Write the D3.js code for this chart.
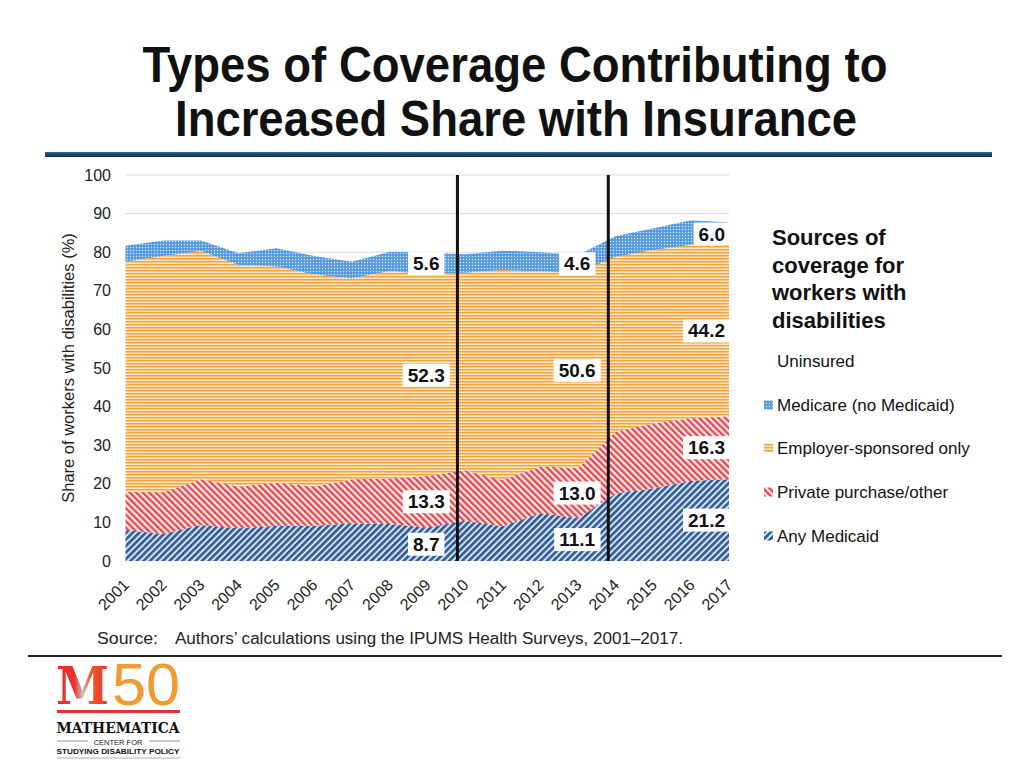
<!DOCTYPE html>
<html>
<head>
<meta charset="utf-8">
<script src="https://cdn.jsdelivr.net/npm/d3@7"></script>
<style>
  html, body { margin: 0; padding: 0; background: #fff; }
  svg { display: block; font-family: "Liberation Sans", Arial, sans-serif; }
</style>
</head>
<body>
<svg id="chart" width="1024" height="768"></svg>
<script>
// ---- data ----
const years = [2001, 2002, 2003, 2004, 2005, 2006, 2007, 2008, 2009, 2010, 2011, 2012, 2013, 2014, 2015, 2016, 2017];
const anyMedicaid = [8.0, 7.0, 9.3, 8.5, 9.1, 9.1, 9.8, 9.6, 8.7, 10.4, 9.0, 12.4, 11.1, 17.5, 18.8, 20.8, 21.2];
const privatePurchase = [10.0, 10.8, 11.9, 10.8, 11.2, 10.2, 11.4, 11.8, 13.3, 13.1, 12.0, 12.1, 13.0, 16.0, 16.9, 16.2, 16.3];
const employerOnly = [59.5, 61.2, 59.1, 57.4, 56.0, 54.9, 52.0, 53.7, 52.3, 51.2, 54.4, 50.5, 50.6, 45.3, 44.9, 44.9, 44.2];
const medicare = [4.2, 4.0, 2.7, 3.0, 4.7, 4.8, 4.3, 5.0, 5.6, 4.8, 5.0, 5.0, 4.6, 5.4, 5.6, 6.4, 6.0];
const uninsured = [18.3, 17.0, 17.0, 20.3, 19.0, 21.0, 22.5, 19.9, 20.1, 20.5, 19.6, 20.0, 20.7, 15.8, 13.8, 11.7, 12.3];
const yTicks = [0, 10, 20, 30, 40, 50, 60, 70, 80, 90, 100];
const labelYears = [2009, 2013, 2017];
const markerYears = [2009.8, 2013.8];
const seriesKeys = ["medicaid", "private", "employer", "medicare", "uninsured"];
const seriesNames = {
  medicaid: "Any Medicaid",
  private: "Private purchase/other",
  employer: "Employer-sponsored only",
  medicare: "Medicare (no Medicaid)",
  uninsured: "Uninsured"
};
const legendOrder = ["uninsured", "medicare", "employer", "private", "medicaid"];

const table = years.map((y, i) => ({
  year: y,
  medicaid: anyMedicaid[i],
  private: privatePurchase[i],
  employer: employerOnly[i],
  medicare: medicare[i],
  uninsured: uninsured[i]
}));

// ---- drawing ----
const svg = d3.select("#chart");
const defs = svg.append("defs");

function stripePattern(id, bg, fg, size, sw, angle) {
  const p = defs.append("pattern").attr("id", id)
    .attr("patternUnits", "userSpaceOnUse")
    .attr("width", size).attr("height", size)
    .attr("patternTransform", `rotate(${angle})`);
  p.append("rect").attr("width", size).attr("height", size).attr("fill", bg);
  p.append("rect").attr("x", 0).attr("y", 0).attr("width", sw).attr("height", size).attr("fill", fg);
}
stripePattern("pat-medicaid", "#d6e2f0", "#2f5c92", 4.6, 2.6, 45);
stripePattern("pat-private", "#fbe3e3", "#e2464c", 4.6, 2.2, -45);
(function () {
  const p = defs.append("pattern").attr("id", "pat-employer")
    .attr("patternUnits", "userSpaceOnUse").attr("width", 6).attr("height", 3);
  p.append("rect").attr("width", 6).attr("height", 3).attr("fill", "#fde6c4");
  p.append("rect").attr("y", 0).attr("width", 6).attr("height", 1.5).attr("fill", "#f2a43c");
})();
(function () {
  const p = defs.append("pattern").attr("id", "pat-medicare")
    .attr("patternUnits", "userSpaceOnUse").attr("width", 3).attr("height", 3);
  p.append("rect").attr("width", 3).attr("height", 3).attr("fill", "#559ae0");
  p.append("circle").attr("cx", 1.5).attr("cy", 1.5).attr("r", 0.75).attr("fill", "#dbeaf9");
})();
const fills = {
  medicaid: "url(#pat-medicaid)",
  private: "url(#pat-private)",
  employer: "url(#pat-employer)",
  medicare: "url(#pat-medicare)",
  uninsured: "none"
};

// Title
const title = svg.append("g").attr("font-weight", "bold").attr("fill", "#111").attr("font-size", 50)
  .attr("font-family", "'Liberation Sans Narrow', 'Arial Narrow', 'Liberation Sans', sans-serif")
  .attr("text-anchor", "middle");
title.append("text").attr("x", 515).attr("y", 82)
  .attr("textLength", 745).attr("lengthAdjust", "spacingAndGlyphs")
  .text("Types of Coverage Contributing to");
title.append("text").attr("x", 516).attr("y", 136)
  .attr("textLength", 682).attr("lengthAdjust", "spacingAndGlyphs")
  .text("Increased Share with Insurance");

// header rule
const grad = defs.append("linearGradient").attr("id", "rule-grad").attr("x1", 0).attr("x2", 0).attr("y1", 0).attr("y2", 1);
grad.append("stop").attr("offset", "0%").attr("stop-color", "#2c6a93");
grad.append("stop").attr("offset", "100%").attr("stop-color", "#0e2f4a");
svg.append("rect").attr("x", 45).attr("y", 152).attr("width", 947).attr("height", 5).attr("fill", "url(#rule-grad)");

// scales
const x = d3.scaleLinear().domain([2001, 2017]).range([125.5, 729]);
const y = d3.scaleLinear().domain([0, 100]).range([561, 175]);

// gridlines
const grid = svg.append("g");
grid.selectAll("line").data(yTicks.filter(t => t > 0)).join("line")
  .attr("x1", x(2001)).attr("x2", x(2017))
  .attr("y1", d => y(d)).attr("y2", d => y(d))
  .attr("stroke", "#d9d9d9").attr("stroke-width", 1);

// stacked areas
const stack = d3.stack().keys(seriesKeys);
const layers = stack(table);
const area = d3.area()
  .x(d => x(d.data.year))
  .y0(d => y(d[0]))
  .y1(d => y(d[1]));
svg.append("g").selectAll("path").data(layers).join("path")
  .attr("d", area)
  .attr("fill", d => fills[d.key]);

// y axis
const yAxis = d3.axisLeft(y).tickValues(yTicks).tickSize(0).tickPadding(0);
const yg = svg.append("g").attr("transform", "translate(111,0)").call(yAxis);
yg.select(".domain").remove();
yg.selectAll("text").attr("font-size", 16).attr("fill", "#222")
  .attr("font-family", "Liberation Sans, Arial, sans-serif");

// x axis
const xAxis = d3.axisBottom(x).tickValues(years).tickFormat(d3.format("d")).tickSize(0).tickPadding(0);
const xg = svg.append("g").attr("transform", "translate(0,561)").call(xAxis);
xg.select(".domain").remove();
xg.selectAll("text")
  .attr("font-size", 16).attr("fill", "#222")
  .attr("font-family", "Liberation Sans, Arial, sans-serif")
  .attr("text-anchor", "end")
  .attr("dy", null).attr("y", 0)
  .attr("transform", "translate(4,25) rotate(-45)");

// y title
svg.append("text")
  .attr("transform", `translate(74,${y(50)}) rotate(-90)`)
  .attr("text-anchor", "middle").attr("font-size", 16.5).attr("fill", "#222")
  .text("Share of workers with disabilities (%)");

// vertical markers
svg.append("g").selectAll("line").data(markerYears).join("line")
  .attr("x1", d => x(d)).attr("x2", d => x(d))
  .attr("y1", y(100)).attr("y2", y(0))
  .attr("stroke", "#111").attr("stroke-width", 3);

// data labels
const labelG = svg.append("g");
const labelData = [];
layers.filter(l => l.key !== "uninsured").forEach(l => {
  labelYears.forEach(yr => {
    const i = years.indexOf(yr);
    const d = l[i];
    labelData.push({ year: yr, v: table[i][l.key], mid: (d[0] + d[1]) / 2, last: yr === 2017 });
  });
});
labelData.forEach(ld => {
  const g = labelG.append("g");
  const t = g.append("text")
    .attr("font-size", 19).attr("font-weight", "bold").attr("fill", "#111")
    .attr("dominant-baseline", "central")
    .attr("text-anchor", ld.last ? "end" : "middle")
    .attr("x", ld.last ? x(ld.year) - 4 : x(ld.year) - 1)
    .attr("y", y(ld.mid))
    .text(ld.v.toFixed(1));
  const bb = t.node().getBBox();
  g.insert("rect", "text")
    .attr("x", bb.x - 5).attr("y", bb.y - 1)
    .attr("width", bb.width + 10).attr("height", bb.height + 2)
    .attr("fill", "#fff");
});

// legend
const lg = svg.append("g");
const ltitle = ["Sources of", "coverage for", "workers with", "disabilities"];
lg.append("text").attr("font-size", 22).attr("font-weight", "bold").attr("fill", "#111")
  .selectAll("tspan").data(ltitle).join("tspan")
  .attr("x", 772).attr("y", (d, i) => 245 + i * 27.5).text(d => d);
const legY = [361, 405, 448, 492, 536];
legendOrder.forEach((k, i) => {
  if (fills[k] !== "none") {
    lg.append("rect").attr("x", 764).attr("y", legY[i] - 4.5).attr("width", 9).attr("height", 9)
      .attr("fill", fills[k]);
  }
  lg.append("text").attr("x", 777).attr("y", legY[i]).attr("dominant-baseline", "central")
    .attr("font-size", 17).attr("fill", "#111").text(seriesNames[k]);
});

// source
svg.append("text").attr("x", 97).attr("y", 644).attr("font-size", 16).attr("fill", "#222")
  .attr("textLength", 61).attr("lengthAdjust", "spacingAndGlyphs").text("Source:");
svg.append("text").attr("x", 175).attr("y", 644).attr("font-size", 16).attr("fill", "#222")
  .attr("textLength", 508).attr("lengthAdjust", "spacingAndGlyphs")
  .text("Authors\u2019 calculations using the IPUMS Health Surveys, 2001\u20132017.");
svg.append("rect").attr("x", 28).attr("y", 655).attr("width", 974).attr("height", 2).attr("fill", "#222");

// logo
const logo = svg.append("g");
const mg = defs.append("linearGradient").attr("id", "m-grad").attr("x1", 0).attr("x2", 1);
mg.append("stop").attr("offset", "0%").attr("stop-color", "#e8322c");
mg.append("stop").attr("offset", "35%").attr("stop-color", "#e8322c");
mg.append("stop").attr("offset", "50%").attr("stop-color", "#c9c2bb");
mg.append("stop").attr("offset", "65%").attr("stop-color", "#ef5a2c");
mg.append("stop").attr("offset", "100%").attr("stop-color", "#e8322c");
logo.append("text").attr("x", 56).attr("y", 704).attr("font-family", "DejaVu Serif, serif")
  .attr("font-weight", "bold").attr("font-size", 52).attr("fill", "url(#m-grad)")
  .attr("textLength", 53).attr("lengthAdjust", "spacingAndGlyphs").text("M");
logo.append("text").attr("x", 112).attr("y", 705).attr("font-family", "Liberation Sans, sans-serif")
  .attr("font-size", 60).attr("fill", "#f29a2e")
  .attr("textLength", 68).attr("lengthAdjust", "spacingAndGlyphs").text("50");
logo.append("rect").attr("x", 57).attr("y", 710).attr("width", 123).attr("height", 3).attr("fill", "#e0313a");
logo.append("text").attr("x", 118).attr("y", 733).attr("text-anchor", "middle")
  .attr("font-family", "DejaVu Serif, serif").attr("font-weight", "bold").attr("font-size", 14)
  .attr("fill", "#111").attr("textLength", 123).attr("lengthAdjust", "spacingAndGlyphs").text("MATHEMATICA");
logo.append("line").attr("x1", 57).attr("x2", 88).attr("y1", 741).attr("y2", 741).attr("stroke", "#777").attr("stroke-width", 0.8);
logo.append("line").attr("x1", 149).attr("x2", 180).attr("y1", 741).attr("y2", 741).attr("stroke", "#777").attr("stroke-width", 0.8);
logo.append("text").attr("x", 118).attr("y", 744.5).attr("text-anchor", "middle")
  .attr("font-size", 7.5).attr("fill", "#222").text("CENTER FOR");
logo.append("text").attr("x", 118).attr("y", 754).attr("text-anchor", "middle")
  .attr("font-size", 8).attr("font-weight", "bold").attr("fill", "#111")
  .attr("textLength", 123).attr("lengthAdjust", "spacingAndGlyphs").text("STUDYING DISABILITY POLICY");
logo.append("line").attr("x1", 57).attr("x2", 180).attr("y1", 758).attr("y2", 758).attr("stroke", "#999").attr("stroke-width", 0.8);
</script>
</body>
</html>
